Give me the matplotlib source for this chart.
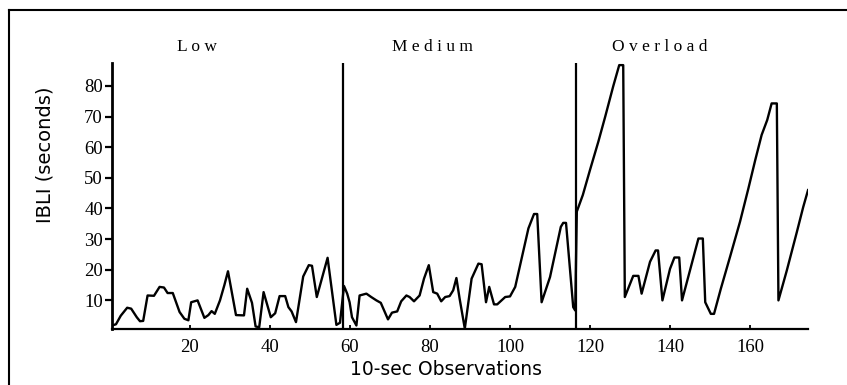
from matplotlib import pyplot as plt
from matplotlib.lines import Line2D

# Observation index and inter-behaviour interval (seconds) at each turn of the trace
obs = [1.0, 1.5, 2.7, 4.3, 5.3, 6.7, 7.5, 8.3, 9.4, 11.0,
       12.4, 13.5, 14.4, 15.7, 17.4, 18.6, 19.6, 20.3, 21.9, 23.6,
       24.6, 25.4, 26.2, 27.5, 28.6, 29.5, 31.5, 33.5, 34.3, 35.5,
       36.4, 37.3, 38.4, 40.2, 41.3, 42.4, 43.8, 44.6, 45.4, 46.5,
       48.3, 49.7, 50.5, 51.7, 54.4, 56.6, 57.5,
       58.5, 59.3, 59.9, 60.5, 61.6, 62.4, 64.1, 65.3, 66.6, 67.7,
       69.5, 70.5, 71.8, 72.8, 74.1, 74.9, 76.0, 77.4, 78.5, 79.7,
       80.8, 81.8, 82.8, 83.8, 84.9, 85.8, 86.6, 87.4, 88.7, 90.4,
       92.1, 92.9, 94.0, 94.8, 96.0, 96.8, 98.8, 100.0, 101.3, 102.9,
       104.6, 106.0, 106.8, 107.9, 110.0, 112.7, 113.3, 114.0, 115.8, 116.3,
       116.7, 118.2, 120.0, 122.1, 123.8, 125.8, 127.3, 128.3, 128.7, 130.8,
       132.1, 132.9, 135.0, 136.4, 137.0, 138.1, 140.0, 141.1, 142.3, 143.0,
       147.1, 148.2, 148.8, 150.2, 151.0, 152.7, 155.0, 157.5, 159.6, 161.3,
       162.9, 164.3, 165.4, 166.7, 167.1, 169.2, 171.7, 173.3, 174.5]
ibli = [2.0, 2.2, 5.0, 7.6, 7.3, 4.5, 3.2, 3.3, 11.6, 11.5,
        14.4, 14.2, 12.4, 12.4, 6.2, 4.0, 3.5, 9.4, 10.0, 4.3,
        5.2, 6.5, 5.6, 10.0, 15.0, 19.5, 5.2, 5.1, 13.8, 9.2,
        1.5, 1.2, 12.7, 4.5, 5.8, 11.4, 11.4, 7.8, 6.4, 2.9,
        17.8, 21.5, 21.3, 11.1, 23.9, 2.0, 2.7,
        14.7, 12.2, 9.4, 4.5, 1.8, 11.6, 12.2, 11.1, 10.0, 9.2,
        3.8, 6.0, 6.4, 9.7, 11.6, 11.1, 9.7, 11.6, 17.1, 21.5,
        12.7, 12.2, 9.7, 11.1, 11.4, 13.3, 17.3, 10.6, 0.8, 17.1,
        22.0, 21.8, 9.4, 14.4, 8.7, 8.7, 11.1, 11.3, 14.4, 23.7,
        33.5, 38.2, 38.2, 9.4, 17.6, 34.0, 35.3, 35.3, 7.8, 6.7,
        39.0, 44.4, 52.6, 61.9, 70.0, 79.9, 86.8, 86.8, 11.1, 18.0,
        18.0, 12.2, 22.6, 26.3, 26.3, 10.0, 20.3, 24.0, 24.0, 10.0,
        30.2, 30.2, 9.4, 5.6, 5.6, 13.8, 24.2, 35.7, 46.6, 55.8,
        64.0, 68.9, 74.3, 74.3, 10.0, 19.8, 32.3, 40.5, 46.0]

phases = ['Low', 'Medium', 'Overload']
phase_centers = [21.8, 80.5, 137.5]
phase_breaks = [58.3, 116.4]

x_ticks = [20, 40, 60, 80, 100, 120, 140, 160]
y_ticks = [10, 20, 30, 40, 50, 60, 70, 80]

serif = ['Liberation Serif', 'DejaVu Serif']
sans = ['DejaVu Sans']

fig = plt.figure(figsize=(8.47, 3.85), dpi=100)
ax = fig.add_axes([0.1322, 0.1442, 0.8218, 0.6922])

ax.plot(obs, ibli, color='black', lw=1.7, solid_joinstyle='round')
for b in phase_breaks:
    ax.axvline(b, color='black', lw=1.6)

ax.set_xlim(0.5, 174.5)
ax.set_ylim(0.5, 87.5)

ax.spines['top'].set_visible(False)
ax.spines['right'].set_visible(False)
ax.spines['left'].set_linewidth(2.0)
ax.spines['bottom'].set_linewidth(1.6)

ax.set_xticks(x_ticks)
ax.set_yticks(y_ticks)
ax.tick_params(axis='x', direction='in', length=3, width=1.3, pad=7)
ax.tick_params(axis='y', direction='out', length=5, width=1.6, pad=1.5)
for lbl in ax.get_xticklabels() + ax.get_yticklabels():
    lbl.set_family(serif)
    lbl.set_fontsize(13.5)

ax.set_xlabel('10-sec Observations', family=sans, fontsize=13.5)
ax.xaxis.set_label_coords(0.48, -0.115)
ax.set_ylabel('IBLI (seconds)', family=sans, fontsize=14)
ax.yaxis.set_label_coords(-0.082, 0.655)

# phase names, spaced out above each section
for name, xc in zip(phases, phase_centers):
    ax.text(xc, 92.8, ' '.join(name), family=serif, fontsize=12.5,
            ha='center', va='center', clip_on=False)

# open frame round the figure: left and top edges only
fig.add_artist(Line2D([0.0106, 0.0106], [0.0, 0.974], color='black', lw=1.5))
fig.add_artist(Line2D([0.0106, 1.0], [0.974, 0.974], color='black', lw=1.5))

fig.savefig('out.png', dpi=100)
